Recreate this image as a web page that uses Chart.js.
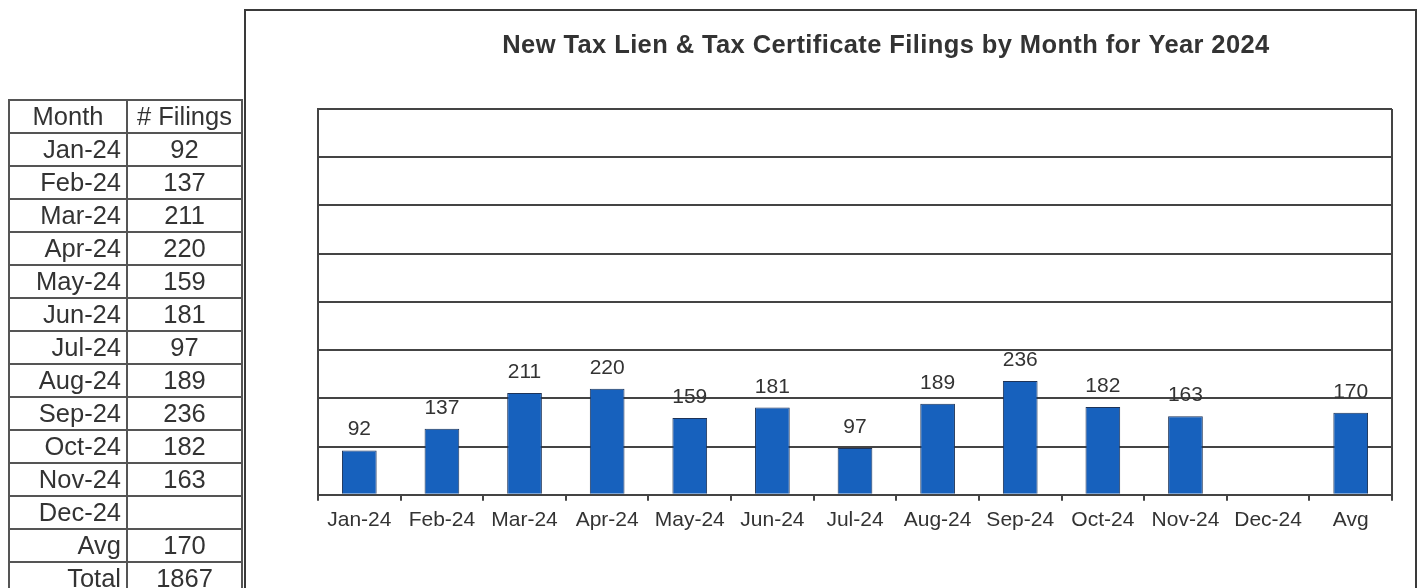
<!DOCTYPE html>
<html>
<head>
<meta charset="utf-8">
<script src="https://cdn.jsdelivr.net/npm/chart.js@4.4.1/dist/chart.umd.min.js"></script>
<style>
  html, body { margin:0; padding:0; background:#fff; }
  body { width:1421px; height:588px; position:relative; overflow:hidden; font-family:"Liberation Sans", Arial, sans-serif; }
  #wrap { position:absolute; left:0; top:0; width:1421px; height:588px; }
  #tbl { position:absolute; left:0; top:0; }
  .cell { position:absolute; box-sizing:border-box; height:35px; border:2px solid #555; font-size:25.5px; line-height:30px; color:#333; white-space:nowrap; }
  .c1 { text-align:right; padding-right:5px; }
  .c2 { text-align:center; }
</style>
</head>
<body>
<div id="wrap"><canvas id="c" width="1421" height="588"></canvas></div>
<div id="tbl"></div>
<script>
// ---- data ----
const months = ['Jan-24','Feb-24','Mar-24','Apr-24','May-24','Jun-24','Jul-24','Aug-24','Sep-24','Oct-24','Nov-24','Dec-24'];
const filings = [92, 137, 211, 220, 159, 181, 97, 189, 236, 182, 163, null];
const avgLabel = 'Avg';
const avgFilings = 170;
const totalLabel = 'Total';
const totalFilings = 1867;
const headers = ['Month', '# Filings'];
const chartTitle = 'New Tax Lien & Tax Certificate Filings by Month for Year 2024';

// ---- table (HTML) ----
const tbl = document.getElementById('tbl');
const rows = [headers].concat(months.map((m, i) => [m, filings[i] == null ? '' : String(filings[i])]))
  .concat([[avgLabel, String(avgFilings)], [totalLabel, String(totalFilings)]]);
const tLeft = 8, tTop = 99, rowH = 33, col1W = 118, col2W = 115;
rows.forEach((r, i) => {
  const top = tTop + rowH * i;
  const a = document.createElement('div');
  a.className = 'cell ' + (i === 0 ? 'c2' : 'c1');
  a.style.left = tLeft + 'px'; a.style.top = top + 'px'; a.style.width = (col1W + 2) + 'px';
  a.textContent = r[0];
  const b = document.createElement('div');
  b.className = 'cell c2';
  b.style.left = (tLeft + col1W) + 'px'; b.style.top = top + 'px'; b.style.width = (col2W + 2) + 'px';
  b.textContent = r[1];
  tbl.appendChild(a); tbl.appendChild(b);
});

// ---- chart ----
const chartLabels = months.concat([avgLabel]);
const chartValues = filings.concat([avgFilings]);

const lineCol = '#444';

const framePlugin = {
  id: 'frame',
  beforeDraw(chart) {
    const ctx = chart.ctx;
    ctx.save();
    ctx.strokeStyle = '#3a3a3a';
    ctx.lineWidth = 2;
    ctx.strokeRect(245, 10, 1171, 600);
    ctx.restore();
  },
  afterDraw(chart) {
    const ctx = chart.ctx;
    const a = chart.chartArea;
    ctx.save();
    ctx.strokeStyle = lineCol;
    ctx.lineWidth = 2;
    ctx.beginPath();
    ctx.moveTo(a.right, a.top);
    ctx.lineTo(a.right, a.bottom);
    ctx.stroke();
    ctx.fillStyle = '#333';
    ctx.font = 'bold 25.5px "Liberation Sans", Arial, sans-serif';
    ctx.letterSpacing = '0.4px';
    ctx.textAlign = 'center';
    ctx.textBaseline = 'alphabetic';
    ctx.fillText(chartTitle, 886, 53);
    ctx.restore();
  }
};

const labelPlugin = {
  id: 'barLabels',
  afterDatasetsDraw(chart) {
    const ctx = chart.ctx;
    const meta = chart.getDatasetMeta(0);
    const ds = chart.data.datasets[0].data;
    ctx.save();
    ctx.fillStyle = '#333';
    ctx.font = '21px "Liberation Sans", Arial, sans-serif';
    ctx.textAlign = 'center';
    ctx.textBaseline = 'alphabetic';
    meta.data.forEach((el, i) => {
      if (ds[i] == null) return;
      ctx.fillText(String(ds[i]), el.x, el.y - 15);
    });
    ctx.restore();
  }
};

new Chart(document.getElementById('c'), {
  type: 'bar',
  data: {
    labels: chartLabels,
    datasets: [{
      data: chartValues,
      backgroundColor: '#1761bd',
      borderColor: '#1d3358',
      borderWidth: 1,
      barPercentage: 0.42,
      categoryPercentage: 1.0
    }]
  },
  options: {
    responsive: false,
    animation: false,
    devicePixelRatio: 1,
    layout: { padding: { left: 318, right: 29, top: 109, bottom: 48 } },
    plugins: {
      legend: { display: false },
      title: { display: false },
      tooltip: { enabled: false }
    },
    scales: {
      x: {
        offset: true,
        grid: { display: true, offset: true, drawOnChartArea: false, drawTicks: true, tickLength: 6, color: lineCol, lineWidth: 2 },
        border: { display: true, color: lineCol, width: 2 },
        ticks: { color: '#333', padding: 7, maxRotation: 0, autoSkip: false, font: { size: 21, family: '"Liberation Sans", Arial, sans-serif' } }
      },
      y: {
        min: 0, max: 800,
        ticks: { display: false, stepSize: 100 },
        grid: { color: lineCol, lineWidth: 2, drawTicks: false },
        border: { display: true, color: lineCol, width: 2 }
      }
    }
  },
  plugins: [framePlugin, labelPlugin]
});
</script>
</body>
</html>
